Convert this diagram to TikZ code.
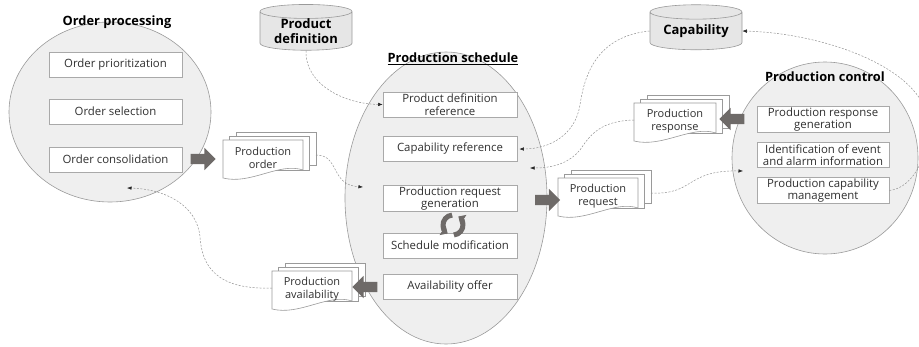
\documentclass[tikz,border=0pt]{standalone}
\usepackage{fontspec}
\setmainfont{Open Sans}
\usetikzlibrary{shapes.geometric,shapes.arrows,arrows.meta}
\definecolor{egray}{HTML}{EFEFEF}
\definecolor{edge}{HTML}{9A9A9A}
\definecolor{agray}{HTML}{6E6A68}
\definecolor{txt}{HTML}{303030}
\definecolor{cylf}{HTML}{E6E6E6}
\tikzset{
 procell/.style={ellipse, draw=edge, fill=egray, line width=0.6pt, inner sep=0pt},
 ptitle/.style={font=\fontsize{12.8}{14}\selectfont\bfseries, text=black, inner sep=1pt},
 fbox/.style={draw=edge!85, fill=white, line width=0.6pt, inner sep=1pt, minimum height=25pt, align=center, font=\fontsize{11.4}{12.5}\selectfont, text=txt},
 dbase/.style={cylinder, shape border rotate=90, aspect=0.22, draw=edge, fill=cylf, line width=0.6pt, font=\fontsize{13}{14.5}\selectfont\bfseries, align=center, inner sep=0pt},
 blockarr/.style={single arrow, fill=agray, draw=none, minimum height=25pt, minimum width=22pt, single arrow head extend=6pt, inner xsep=0pt, inner ysep=5pt},
 flow/.style={draw=gray!85, dash pattern=on 2pt off 1.5pt, line width=0.5pt, -{Latex[length=4.5pt,width=3.5pt,color=black!85]}},
 docd/.style={draw=edge, fill=white, line width=0.6pt},
 doctext/.style={align=center, font=\fontsize{11}{13}\selectfont, text=txt, inner sep=0pt}
}
\newcommand\docstack[5]{%
 \begin{scope}[shift={(#2,#3)}]
  \draw[docd] (13,-8) rectangle ({#4+13},25);
  \draw[docd] (6,-4) rectangle ({#4+6},30);
  \draw[docd] (0,0) -- (#4,0) -- (#4,30) .. controls ({0.7*#4},22) and ({0.35*#4},45) .. (0,38) -- cycle;
  \node[doctext] (#1) at ({#4/2},18) {#5};
  \coordinate (#1-r) at ({#4+13},15);
  \coordinate (#1-l) at (0,17);
 \end{scope}}
\begin{document}
\begin{tikzpicture}[x=1pt,y=-1pt]
\useasboundingbox (0,0) rectangle (919,346);
\clip (0,0) rectangle (919,346);
% ellipses
\node[procell, minimum width=202pt, minimum height=180pt] (opE) at (110,112) {};
\node[procell, minimum width=202pt, minimum height=292pt] (psE) at (446,198) {};
\node[procell, minimum width=186pt, minimum height=192pt] (pcE) at (825,158) {};
% titles
\node[ptitle] (opT) at (117,22) {Order processing};
\node[ptitle] (psT) at (453,59) {\underline{Production schedule}};
\node[ptitle] (pcT) at (825,77) {Production control};
% order processing boxes
\node[fbox, minimum width=133pt] (opb1) at (115.5,64.5) {Order prioritization};
\node[fbox, minimum width=133pt] (opb2) at (115.5,111.5) {Order selection};
\node[fbox, minimum width=133pt] (opb3) at (115.5,159.5) {Order consolidation};
% production schedule boxes
\node[fbox, minimum width=134pt] (pdr) at (450,104.5) {Product definition\\reference};
\node[fbox, minimum width=134pt] (capr) at (450,149) {Capability reference};
\node[fbox, minimum width=134pt] (prg) at (450,198.5) {Production request\\generation};
\node[fbox, minimum width=134pt] (smod) at (450,245.5) {Schedule modification};
\node[fbox, minimum width=134pt] (aoff) at (450,286.5) {Availability offer};
% production control boxes
\node[fbox, minimum width=132pt] (prgen) at (823,119.5) {Production response\\generation};
\node[fbox, minimum width=132pt] (ieai) at (823,155) {Identification of event\\and alarm information};
\node[fbox, minimum width=132pt] (pcm) at (823,190.5) {Production capability\\management};
% cylinders
\node[dbase, minimum width=92pt, minimum height=44pt] (pdC) at (306,31) {Product\\definition};
\node[dbase, minimum width=92pt, minimum height=45pt] (capC) at (696,31) {Capability};
% documents
\docstack{poD}{223}{140}{80}{Production\\order}
\docstack{paD}{272}{271}{80}{Production\\availability}
\docstack{prqD}{558}{178}{80}{Production\\request}
\docstack{prsD}{634}{103}{82}{Production\\response}
% block arrows
\node[blockarr] (a1) at (200.5,159) {};
\node[blockarr, shape border rotate=180] (a2) at (367.5,287) {};
\node[blockarr] (a3) at (545,200) {};
\node[blockarr, shape border rotate=180] (a4) at (734.5,119) {};
% cycle icon
\node[inner sep=0pt, minimum size=26pt] (cyc) at (453,225) {};
\draw[agray, line width=5pt, -{Triangle[length=6pt,width=11pt]}] ([shift={(95:10pt)}]cyc.center) arc[start angle=95, end angle=238, radius=10pt];
\draw[agray, line width=5pt, -{Triangle[length=6pt,width=11pt]}] ([shift={(275:10pt)}]cyc.center) arc[start angle=275, end angle=418, radius=10pt];
% dashed connectors
\coordinate (psIn) at (363,187);
\coordinate (opIn) at (127,188);
\coordinate (psIn2) at (530,168);
\coordinate (pcIn) at (743,171);
\draw[flow] (pdC.south) .. controls (305,85) and (345,104) .. (pdr.west);
\draw[flow] (poD-r) .. controls (340,155) and (330,185) .. (psIn);
\draw[flow] (paD-l) .. controls (215,290) and (202,265) .. (200,237) .. controls (197,205) and (165,189) .. (opIn);
\draw[flow] (capC.west) .. controls (600,36) and (585,70) .. (580,105) .. controls (575,135) and (550,149) .. ([xshift=2pt]capr.east);
\draw[flow] (prsD-l) .. controls (600,121) and (590,135) .. (580,150) .. controls (570,162) and (555,168) .. (psIn2);
\draw[flow] (prqD-r) .. controls (695,195) and (685,170) .. (pcIn);
\draw[flow] (pcm.east) .. controls (915,188) and (932,150) .. (927,115) .. controls (915,65) and (820,33) .. (capC.east);
\end{tikzpicture}
\end{document}
